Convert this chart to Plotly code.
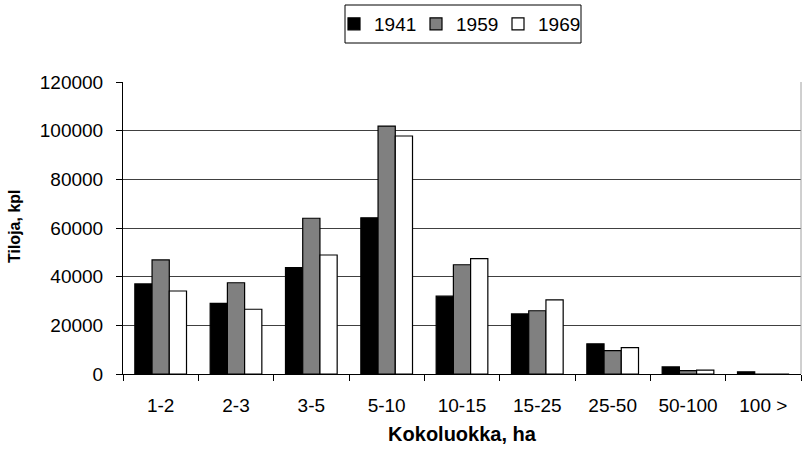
import plotly.graph_objects as go

categories = ["1-2", "2-3", "3-5", "5-10", "10-15", "15-25", "25-50", "50-100", "100 >"]
v1941 = [37000, 29000, 43700, 64200, 32000, 24700, 12400, 2900, 900]
v1959 = [46900, 37500, 64000, 101900, 44900, 26000, 9600, 1400, 0]
v1969 = [34100, 26600, 48900, 97800, 47400, 30500, 10800, 1600, 0]
years = ["1941", "1959", "1969"]
y_ticks = [0, 20000, 40000, 60000, 80000, 100000, 120000]

FONT = "Liberation Sans, Arial, sans-serif"
colors = ["#000000", "#808080", "#ffffff"]

L, R, T, B = 123, 2, 82, 83
PW, PH = 803 - L - R, 457 - T - B


def px_x(p):
    return (p - L) / PW


def px_y(p):
    return (457 - B - p) / PH


fig = go.Figure()
for name, vals, col in zip(years, [v1941, v1959, v1969], colors):
    fig.add_trace(go.Bar(
        x=categories, y=vals, name=name,
        marker=dict(color=col, line=dict(color="#000000", width=1.2)),
    ))

fig.update_layout(
    width=803, height=457,
    margin=dict(l=L, r=R, t=T, b=B, autoexpand=False),
    paper_bgcolor="white", plot_bgcolor="white",
    barmode="group", bargap=0.314, bargroupgap=0,
    font=dict(family=FONT, size=19, color="black"),
    showlegend=True,
    legend=dict(
        orientation="h", x=px_x(334), xanchor="left", y=px_y(24), yanchor="middle",
        borderwidth=0, bgcolor="rgba(0,0,0,0)", font=dict(size=19),
        itemwidth=30, entrywidth=37, traceorder="normal",
    ),
    xaxis=dict(
        automargin=False,
        showline=True, linecolor="black", linewidth=1,
        ticks="outside", ticklen=6, tickcolor="black", tickson="boundaries",
        ticklabelstandoff=14,
        title=dict(text="<b>Kokoluokka, ha</b>", font=dict(size=20), standoff=12),
        showgrid=False,
    ),
    yaxis=dict(
        automargin=False,
        range=[0, 120000], tickvals=y_ticks, tickformat="d",
        showline=True, linecolor="black", linewidth=1,
        ticks="outside", ticklen=6, tickcolor="black",
        ticklabelstandoff=9,
        showgrid=True, gridcolor="#404040", gridwidth=1,
        zeroline=False,
    ),
    annotations=[dict(
        text="<b>Tiloja, kpl</b>", textangle=-90, font=dict(size=16),
        xref="paper", yref="paper", x=px_x(14), y=px_y(226),
        xanchor="center", yanchor="middle", showarrow=False,
    )],
    shapes=[
        dict(type="line", xref="paper", yref="paper", x0=1, x1=1, y0=0, y1=1,
             line=dict(color="#a0a0a0", width=1)),
        dict(type="rect", xref="paper", yref="paper",
             x0=px_x(345), x1=px_x(581), y0=px_y(43), y1=px_y(5),
             line=dict(color="black", width=1), fillcolor="rgba(0,0,0,0)"),
    ],
)

fig.write_html(
    "out.html",
    config={"displayModeBar": False},
    post_script="document.body.style.margin='0';document.body.style.padding='0';",
)
